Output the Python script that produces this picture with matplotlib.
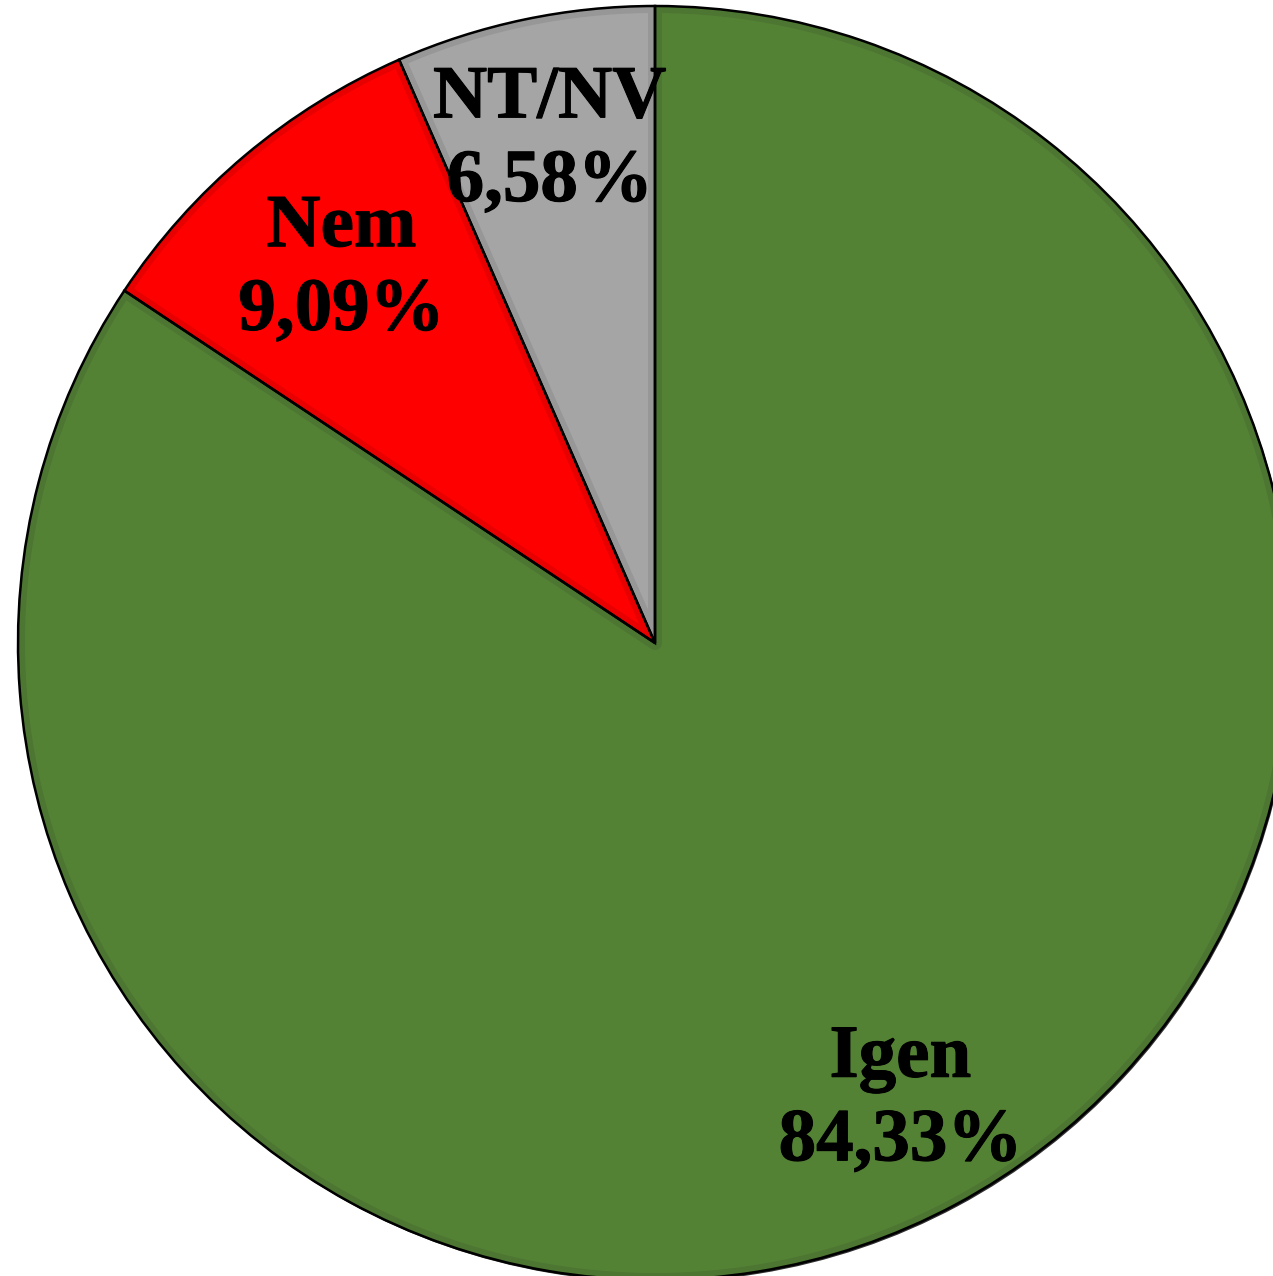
import numpy as np
import matplotlib.pyplot as plt
import matplotlib.patheffects as pe
from matplotlib.patches import Polygon

labels = ["Igen", "Nem", "NT/NV"]
values = [84.33, 9.09, 6.58]
colors = ["#548235", "#FF0000", "#A5A5A5"]
rim_colors = ["#4C7631", "#E80000", "#979797"]
label_dist = [0.815, 0.765, 0.805]

W, H = 1273, 1276
cx, cy, r = 655, 643, 637


def inner_shape(w, d):
    # slice shrunk inwards by d (axes units), used for the lighter face
    t1, t2 = np.deg2rad(w.theta1), np.deg2rad(w.theta2)
    rho = w.r - d
    a = np.arcsin(d / rho)
    big = np.linspace(t2 - a, t1 + a, 200)
    outer = np.c_[rho * np.cos(big), rho * np.sin(big)]
    h = (t2 - t1) / 2
    if h < np.pi / 2:
        m = (t1 + t2) / 2
        apex = np.array([[np.cos(m), np.sin(m)]]) * d / np.sin(h)
        pts = np.vstack([apex, outer])
    else:
        small = np.linspace(t1 + np.pi / 2, t2 - np.pi / 2, 60)
        pts = np.vstack([np.c_[d * np.cos(small), d * np.sin(small)], outer])
    return Polygon(pts, closed=True)


fig = plt.figure(figsize=(W / 100, H / 100), dpi=100)
ax = fig.add_axes([0, 0, 1, 1])

# soft shadow towards the bottom right
ax.pie(values, colors=["#000000"] * 3, startangle=90, counterclock=False,
       center=(1.5 / r, -2.0 / r), wedgeprops=dict(edgecolor="none", alpha=0.8))

# darker rim colour on the full slice
wedges, _ = ax.pie(values, colors=rim_colors, startangle=90, counterclock=False,
                   wedgeprops=dict(edgecolor="none", linewidth=0))
# main colour inside
for w, c in zip(wedges, colors):
    p = inner_shape(w, 7.0 / r)
    p.set_facecolor(c)
    p.set_edgecolor("none")
    ax.add_patch(p)

# thin black outlines
ax.pie(values, colors=["none"] * 3, startangle=90, counterclock=False,
       wedgeprops=dict(edgecolor="black", linewidth=1.8))

for w, lab, v, d in zip(wedges, labels, values, label_dist):
    ang = np.deg2rad((w.theta1 + w.theta2) / 2)
    ax.text(d * np.cos(ang), d * np.sin(ang), f"{lab}\n{v:.2f}%".replace(".", ","),
            ha="center", va="center", multialignment="center",
            fontsize=54, fontweight="bold", family="Liberation Serif",
            linespacing=1.3,
            path_effects=[pe.withStroke(linewidth=0.8, foreground="black")])

ax.set_xlim(-cx / r, (W - cx) / r)
ax.set_ylim(-(H - cy) / r, cy / r)
ax.set_aspect("auto")
ax.axis("off")
fig.savefig("out.png", dpi=100, facecolor="white")
